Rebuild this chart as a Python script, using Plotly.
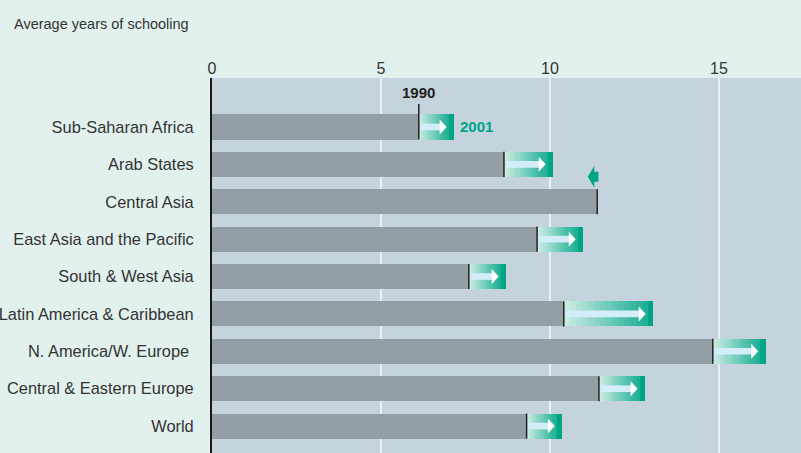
import plotly.graph_objects as go

regions = ["Sub-Saharan Africa", "Arab States", "Central Asia", "East Asia and the Pacific",
           "South & West Asia", "Latin America & Caribbean", "N. America/W. Europe ",
           "Central & Eastern Europe", "World"]
years_1990 = [6.12, 8.64, 11.4, 9.62, 7.6, 10.41, 14.82, 11.45, 9.31]
years_2001 = [7.16, 10.09, 11.12, 10.98, 8.7, 13.05, 16.38, 12.81, 10.36]
x_ticks = [0, 5, 10, 15]

FONT = "Liberation Sans, Arial, sans-serif"
BAR_W = 0.67
ypos = list(range(len(regions)))

X_RANGE = [0, 17.43]
Y_RANGE = [8.72, -1.31]
PLOT_W, PLOT_H = 589, 375
XPX = PLOT_W / (X_RANGE[1] - X_RANGE[0])      # pixels per x unit
YPX = PLOT_H / abs(Y_RANGE[0] - Y_RANGE[1])   # pixels per y unit

fig = go.Figure()

# 1990 bars
fig.add_trace(go.Bar(y=ypos, x=years_1990, orientation="h", width=BAR_W,
                     marker=dict(color="#939fa5", line=dict(width=0)),
                     showlegend=False, hoverinfo="skip"))

# gradient segments for increases
N = 14
CAP = 5.3 / XPX
def lerp(c1, c2, t):
    return "#%02x%02x%02x" % tuple(int(round(a + (b - a) * t)) for a, b in zip(c1, c2))
light = (0xc8, 0xeb, 0xe2)
dark = (0x1f, 0xb0, 0x95)
gy, gb, gx, gc = [], [], [], []
cy, cb, cx = [], [], []
for i, (a, b) in enumerate(zip(years_1990, years_2001)):
    if b <= a:
        continue
    seg = (b - a - CAP) / N
    for k in range(N):
        gy.append(i)
        gb.append(a + k * seg)
        gx.append(seg * 1.02)
        gc.append(lerp(light, dark, k / (N - 1)))
    cy.append(i); cb.append(b - CAP); cx.append(CAP)
fig.add_trace(go.Bar(y=gy, x=gx, base=gb, orientation="h", width=BAR_W,
                     marker=dict(color=gc, line=dict(width=0)),
                     showlegend=False, hoverinfo="skip"))
fig.add_trace(go.Bar(y=cy, x=cx, base=cb, orientation="h", width=BAR_W,
                     marker=dict(color="#00a587", line=dict(width=0)),
                     showlegend=False, hoverinfo="skip"))


def px_path(pts):
    return "M " + " L ".join(f"{x},{y}" for x, y in pts) + " Z"


shapes = []
for i, (a, b) in enumerate(zip(years_1990, years_2001)):
    top = i - BAR_W / 2 - (0.28 if i == 0 else 0)
    shapes.append(dict(type="line", xref="x", yref="y", x0=a, x1=a, y0=top, y1=i + BAR_W / 2,
                       line=dict(color="#222222", width=1.5)))
    if b > a:
        tip = b - CAP - 2 / XPX
        neck = tip - 7 / XPX
        start = a + 2 / XPX
        bh = 3.3 / YPX
        hh = 7.5 / YPX
        shapes.append(dict(type="path", xref="x", yref="y", layer="above",
                           path=px_path([(start, i - bh), (neck + 0.5 / XPX, i - bh),
                                         (neck + 0.5 / XPX, i + bh), (start, i + bh)]),
                           fillcolor="#d3eef9", line=dict(width=0)))
        shapes.append(dict(type="path", xref="x", yref="y", layer="above",
                           path=px_path([(neck, i - hh), (tip, i), (neck, i + hh)]),
                           fillcolor="#ffffff", line=dict(width=0)))
    else:
        yc = i - 25 / YPX
        neck = b + 6.5 / XPX
        end = a + 1.2 / XPX
        bh = 5 / YPX
        hh = 11 / YPX
        shapes.append(dict(type="path", xref="x", yref="y", layer="above",
                           path=px_path([(b, yc), (neck, yc - hh), (neck, yc - bh), (end, yc - bh),
                                         (end, yc + bh), (neck, yc + bh), (neck, yc + hh)]),
                           fillcolor="#00a587", line=dict(width=0)))

annotations = [
    dict(x=years_1990[0], y=-0.91, xref="x", yref="y", text="<b>1990</b>",
         showarrow=False, font=dict(family=FONT, size=15, color="#222222")),
    dict(x=years_2001[0] + 0.12, y=0, xref="x", yref="y", text="<b>2001</b>",
         showarrow=False, xanchor="left", font=dict(family=FONT, size=15, color="#00a587")),
    dict(xref="paper", yref="paper", x=(12 - 212) / PLOT_W, y=1 + (78 - 24) / PLOT_H,
         text="Average years of schooling", showarrow=False, xanchor="left", yanchor="middle",
         font=dict(family=FONT, size=14.5, color="#333333")),
]

fig.update_layout(
    width=801, height=453,
    margin=dict(l=212, r=0, t=78, b=0, autoexpand=False),
    paper_bgcolor="#e2f1ee", plot_bgcolor="#c5d3dc",
    barmode="overlay", bargap=0,
    shapes=shapes, annotations=annotations,
    xaxis=dict(side="top", range=X_RANGE, tickvals=x_ticks, ticktext=[str(t) for t in x_ticks],
               showgrid=True, gridcolor="#e6f1f4", gridwidth=1.5, zeroline=False, automargin=False,
               ticks="", tickfont=dict(family=FONT, size=16, color="#333333"), fixedrange=True),
    yaxis=dict(range=Y_RANGE, tickvals=ypos, ticktext=regions, showgrid=False,
               zeroline=False, showline=True, linecolor="#1a1a1a", linewidth=2,
               ticks="", ticklabelstandoff=13, automargin=False,
               tickfont=dict(family=FONT, size=16.4, color="#333333")),
)

fig.write_html("out.html", config={"displayModeBar": False},
               post_script="document.body.style.margin='0';document.body.style.overflow='hidden';")
